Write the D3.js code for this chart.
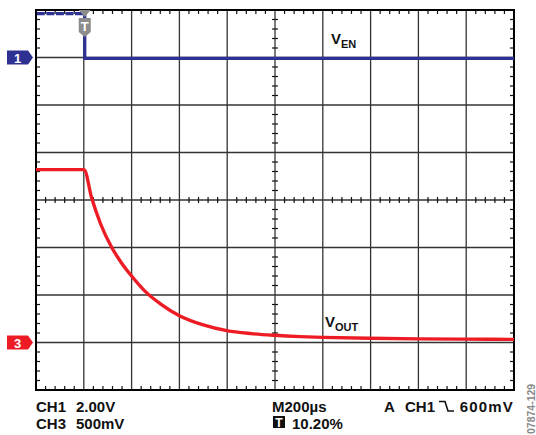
<!DOCTYPE html>
<html>
<head>
<meta charset="utf-8">
<script src="https://cdn.jsdelivr.net/npm/d3@7"></script>
<style>
  body { margin: 0; background: #fff; }
  text { font-family: "Liberation Sans", Arial, sans-serif; font-weight: bold; }
</style>
</head>
<body>
<div id="scope"></div>
<script>
// time axis in microseconds, 200us/div, 10 divisions
var timeDomain = [0, 2000];
var triggerUs = 204;

// CH1 (V_EN), 2V/div, ground at division 1 from top
var enTime = [0, 204, 204, 2000];
var enVolts = [1.85, 1.85, -0.04, -0.04];

// CH3 (V_OUT), 500mV/div, ground at division 7 from top
var outTime = [0, 100, 201, 233, 270, 317, 360, 400, 460, 519, 598, 700, 798, 900, 997, 1105, 1200, 1397, 1600, 1795, 2000];
var outVolts = [1.82, 1.82, 1.82, 1.52, 1.25, 1.00, 0.83, 0.70, 0.53, 0.41, 0.285, 0.185, 0.125, 0.094, 0.076, 0.062, 0.054, 0.044, 0.038, 0.035, 0.033];

var bottomLeft = [["CH1", "2.00V"], ["CH3", "500mV"]];
var timebase = "M200µs";
var trigLevel = "600mV";
var trigPos = "10.20%";

var W = 536, H = 435;
var L = 36, R = 514, T = 10, B = 390;

var svg = d3.select("#scope").append("svg")
    .attr("width", W)
    .attr("height", H);

var x = d3.scaleLinear().domain(timeDomain).range([L, R]);
var xDiv = d3.scaleLinear().domain([0, 10]).range([L, R]);
var yDiv = d3.scaleLinear().domain([0, 8]).range([T, B]);
var yEn = d3.scaleLinear().domain([2, -14]).range([T, B]);
var yOut = d3.scaleLinear().domain([3.5, -0.5]).range([T, B]);

var grid = svg.append("g");

// major grid
grid.selectAll("line.vg")
    .data(d3.range(1, 10))
    .enter().append("line")
    .attr("class", "vg")
    .attr("x1", function(d) { return xDiv(d); })
    .attr("x2", function(d) { return xDiv(d); })
    .attr("y1", T).attr("y2", B)
    .attr("stroke", "#333").attr("stroke-width", 1.3);

grid.selectAll("line.hg")
    .data(d3.range(1, 8))
    .enter().append("line")
    .attr("class", "hg")
    .attr("y1", function(d) { return yDiv(d); })
    .attr("y2", function(d) { return yDiv(d); })
    .attr("x1", L).attr("x2", R)
    .attr("stroke", "#333").attr("stroke-width", 1.3);

// minor ticks, every 1/5 division
var minorX = d3.range(1, 50).filter(function(i) { return i % 5 != 0; }).map(function(i) { return i / 5; });
var minorY = d3.range(1, 40).filter(function(i) { return i % 5 != 0; }).map(function(i) { return i / 5; });

function ticksH(y0, y1) {
    grid.append("g").selectAll("line")
	.data(minorX)
	.enter().append("line")
	.attr("x1", function(d) { return xDiv(d); })
	.attr("x2", function(d) { return xDiv(d); })
	.attr("y1", y0).attr("y2", y1)
	.attr("stroke", "#111").attr("stroke-width", 1.2);
}
function ticksV(x0, x1) {
    grid.append("g").selectAll("line")
	.data(minorY)
	.enter().append("line")
	.attr("y1", function(d) { return yDiv(d); })
	.attr("y2", function(d) { return yDiv(d); })
	.attr("x1", x0).attr("x2", x1)
	.attr("stroke", "#111").attr("stroke-width", 1.2);
}
ticksH(T, T + 4);
ticksH(B - 4, B);
ticksH(yDiv(4) - 3, yDiv(4) + 3);
ticksV(L, L + 4);
ticksV(R - 4, R);
ticksV(xDiv(5) - 3, xDiv(5) + 3);

// frame
svg.append("rect")
    .attr("x", L).attr("y", T)
    .attr("width", R - L).attr("height", B - T)
    .attr("fill", "none")
    .attr("stroke", "#000").attr("stroke-width", 2);

// traces
var enPts = enTime.map(function(t, i) { return [x(t), yEn(enVolts[i])]; });
svg.append("path")
    .attr("d", d3.line()(enPts.slice(0, 2)))
    .attr("fill", "none")
    .attr("stroke", "#2e3192").attr("stroke-width", 3.2)
    .attr("stroke-dasharray", "8,1.56")
    .attr("stroke-dashoffset", -0.8);
svg.append("path")
    .attr("d", d3.line()(enPts.slice(1)))
    .attr("fill", "none")
    .attr("stroke", "#2e3192").attr("stroke-width", 3.2);

var outLine = d3.line()
    .x(function(d) { return x(d[0]); })
    .y(function(d) { return yOut(d[1]); })
    .curve(d3.curveMonotoneX);
svg.append("path")
    .attr("d", outLine(outTime.map(function(t, i) { return [t, outVolts[i]]; })))
    .attr("fill", "none")
    .attr("stroke", "#ed1c24").attr("stroke-width", 3.4);

// channel markers
function chMarker(label, y, color) {
    svg.append("path")
	.attr("d", "M7," + (y - 7) + "L28," + (y - 7) + "L33," + y + "L28," + (y + 7) + "L7," + (y + 7) + "Z")
	.attr("fill", color);
    svg.append("text")
	.attr("x", 17.5).attr("y", y + 5)
	.attr("text-anchor", "middle")
	.attr("fill", "#fff").attr("font-size", 13)
	.text(label);
}
chMarker("1", yEn(0), "#2e3192");
chMarker("3", yOut(0), "#ed1c24");

// trigger marker
var tx = x(triggerUs);
svg.append("path")
    .attr("d", "M" + (tx - 6) + "," + T + "L" + (tx + 6) + "," + T + "L" + tx + "," + (T + 7) + "Z")
    .attr("fill", "#8c8c8c");
svg.append("path")
    .attr("d", "M" + (tx - 6) + ",18L" + (tx + 6) + ",18L" + (tx + 6) + ",32L" + tx + ",37L" + (tx - 6) + ",32Z")
    .attr("fill", "#8c8c8c");
svg.append("text")
    .attr("x", tx).attr("y", 31)
    .attr("text-anchor", "middle")
    .attr("fill", "#fff").attr("font-size", 13)
    .text("T");

// trace labels
function sub(xp, yp, main, s) {
    var t = svg.append("text").attr("x", xp).attr("y", yp).attr("font-size", 15).attr("fill", "#111");
    t.append("tspan").text(main);
    t.append("tspan").attr("font-size", 11).attr("dy", 4).text(s);
}
sub(331, 44, "V", "EN");
sub(325, 327, "V", "OUT");

// readout text
bottomLeft.forEach(function(r, i) {
    var yy = 412 + i * 17;
    svg.append("text").attr("x", 36).attr("y", yy).attr("font-size", 15).attr("fill", "#111").text(r[0]);
    svg.append("text").attr("x", 76).attr("y", yy).attr("font-size", 15).attr("fill", "#111").text(r[1]);
});
svg.append("text").attr("x", 272).attr("y", 412).attr("font-size", 15).attr("fill", "#111").text(timebase);
svg.append("text").attr("x", 384).attr("y", 412).attr("font-size", 15).attr("fill", "#111").text("A");
svg.append("text").attr("x", 405).attr("y", 412).attr("font-size", 15).attr("fill", "#111").text("CH1");
svg.append("path")
    .attr("d", "M439,401.5L445,401.5L448,411L454,411")
    .attr("fill", "none").attr("stroke", "#111").attr("stroke-width", 1.6);
svg.append("text").attr("x", 514).attr("y", 412).attr("text-anchor", "end")
    .attr("letter-spacing", 1.2)
    .attr("font-size", 15).attr("fill", "#111").text(trigLevel);

svg.append("rect").attr("x", 273).attr("y", 416).attr("width", 12).attr("height", 12).attr("fill", "#111");
svg.append("text").attr("x", 279).attr("y", 427).attr("text-anchor", "middle")
    .attr("font-size", 12).attr("fill", "#fff").text("T");
svg.append("text").attr("x", 292).attr("y", 429).attr("font-size", 15).attr("fill", "#111").text(trigPos);

// figure id
svg.append("text")
    .attr("transform", "translate(535,434) rotate(-90)")
    .attr("font-size", 10.5).attr("font-weight", "normal")
    .attr("fill", "#888")
    .text("07874-129");
</script>
</body>
</html>
